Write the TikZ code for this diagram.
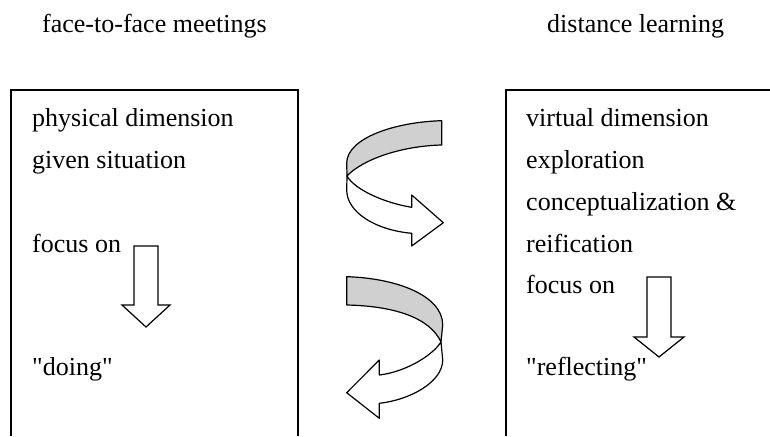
\documentclass[tikz,border=0pt]{standalone}
\usepackage{fontspec}
\setmainfont{Liberation Serif}
\usepackage{xcolor}
\usetikzlibrary{positioning}
\definecolor{bandgray}{RGB}{208,208,208}

\begin{document}
\begin{tikzpicture}[x=1pt,y=-1pt,
    txt/.style={anchor=base west,inner sep=0pt,font=\fontsize{26}{30}\selectfont},
    frame/.style={line width=1.5pt},
    blockarrow/.style={line width=1.2pt,fill=white,line join=miter},
    ribbon/.style={line width=1.2pt,line join=round}]
    \useasboundingbox (0,0) rectangle (770,436);

    % Headings
    \node[txt] (ftf) at (42,33) {face-to-face meetings};
    \node[txt] (dist) at (547,33) {distance learning};

    % Face-to-face box
    \draw[frame] (11,436) -- (11,90) -- (298,90) -- (298,436);
    \node[txt] (phys) at (32,126) {physical dimension};
    \node[txt] (given) at (32,168) {given situation};
    \node[txt] (focl) at (32,252) {focus on};
    \node[txt] (doing) at (32,375) {\textquotedbl doing\textquotedbl};
    \draw[blockarrow] (134,246) -- (158,246) -- (158,305) -- (170,305)
        -- (146,327) -- (122,305) -- (134,305) -- cycle;

    % Distance learning box
    \draw[frame] (506,436) -- (506,90) -- (770,90);
    \node[txt] (virt) at (526,126) {virtual dimension};
    \node[txt] (expl) at (526,168) {exploration};
    \node[txt] (conc) at (526,210) {conceptualization \&};
    \node[txt] (reif) at (526,252) {reification};
    \node[txt] (focr) at (526,293) {focus on};
    \node[txt] (refl) at (526,375) {\textquotedbl reflecting\textquotedbl};
    \draw[blockarrow] (647,277) -- (671,277) -- (671,337) -- (684,337)
        -- (659,357) -- (634,337) -- (647,337) -- cycle;

    % Turning arrow, left to right
    \filldraw[ribbon,fill=bandgray] (441.7,120.7) .. controls (395,122) and (347,138) .. (346.7,163)
        -- (347,176) .. controls (362,160) and (400,146) .. (441.7,145) -- cycle;
    \draw[ribbon,fill=white] (347,176) .. controls (355,190) and (385,203) .. (411.7,207.3)
        -- (411.7,195) -- (443.3,222.7) -- (411.7,246) -- (411.7,233.3)
        .. controls (375,230) and (346.7,212) .. (346.7,190) -- cycle;

    % Turning arrow, right to left
    \filldraw[ribbon,fill=bandgray] (346.7,276.7) .. controls (395,278) and (442.7,295) .. (442.7,325)
        -- (441,342) .. controls (430,318) and (395,306) .. (346.7,305) -- cycle;
    \draw[ribbon,fill=white] (441,342) .. controls (432,356) and (405,372) .. (379.3,375)
        -- (379.3,360) -- (346.7,392.7) -- (379.3,418.3) -- (379.3,403.3)
        .. controls (410,400) and (442.7,382) .. (442.7,360) -- cycle;
\end{tikzpicture}
\end{document}
